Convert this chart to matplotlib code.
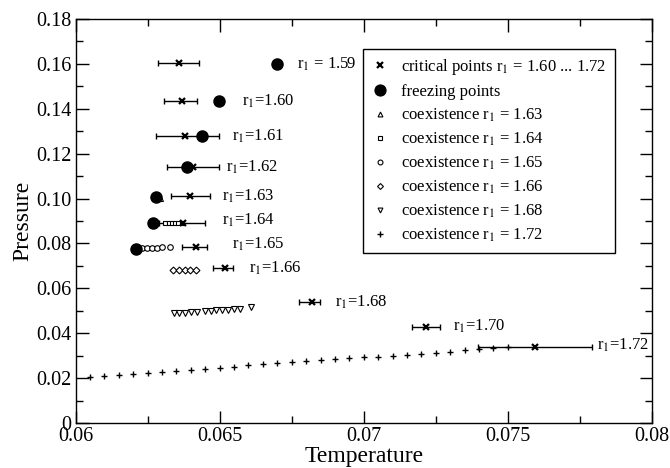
import numpy as np
import matplotlib
matplotlib.use('Agg')
import matplotlib.pyplot as plt
from matplotlib.lines import Line2D

plt.rcParams['font.family'] = ['Liberation Serif', 'DejaVu Serif']
plt.rcParams['mathtext.fontset'] = 'stix'

# critical points with error bars (temperature)
crit_T = [0.06359, 0.06368, 0.0638, 0.06409, 0.06397, 0.06374, 0.06418, 0.06518, 0.06819, 0.07216, 0.07594]
crit_P = [0.1602, 0.1436, 0.1278, 0.1139, 0.1011, 0.0892, 0.0785, 0.0692, 0.0539, 0.0428, 0.0340]
crit_lo = [0.06287, 0.06308, 0.06278, 0.06318, 0.0633, 0.0629, 0.06368, 0.06478, 0.06776, 0.07166, 0.07395]
crit_hi = [0.06428, 0.0642, 0.06499, 0.06499, 0.06467, 0.06449, 0.06457, 0.06547, 0.06848, 0.07264, 0.07793]

# freezing points
frz_T = [0.06698, 0.06499, 0.06438, 0.06388, 0.06279, 0.06268, 0.0621]
frz_P = [0.1600, 0.1436, 0.1278, 0.1139, 0.1005, 0.0889, 0.0775]

# coexistence lines
co163_T = [0.06293]
co163_P = [0.1002]
co164_T = [0.06312, 0.06323, 0.06334, 0.06345, 0.06356, 0.06368]
co164_P = [0.0890, 0.0890, 0.0891, 0.0891, 0.0892, 0.0892]
co165_T = [0.0623, 0.06247, 0.06265, 0.06282, 0.06299, 0.06328]
co165_P = [0.0780, 0.0780, 0.0781, 0.0781, 0.0782, 0.0785]
co166_T = [0.06339, 0.06359, 0.06379, 0.06398, 0.06418]
co166_P = [0.0681, 0.0681, 0.0682, 0.0682, 0.0683]
co168_T = [0.0634, 0.0636, 0.0638, 0.0640, 0.0642, 0.06449, 0.06469, 0.06489, 0.06509, 0.06529, 0.06549, 0.06569, 0.06609]
co168_P = [0.0490, 0.0491, 0.0492, 0.0493, 0.0494, 0.0499, 0.0500, 0.0502, 0.0503, 0.0505, 0.0507, 0.0509, 0.0518]
co172_T = [0.0605, 0.0610, 0.0615, 0.0620, 0.0625, 0.0630, 0.0635, 0.0640, 0.0645, 0.0650,
           0.0655, 0.0660, 0.0665, 0.0670, 0.0675, 0.0680, 0.0685, 0.0690, 0.0695, 0.0700,
           0.0705, 0.0710, 0.0715, 0.0720, 0.0725, 0.0730, 0.0735, 0.0740, 0.0745, 0.0750]
co172_P = [0.0204, 0.0209, 0.0214, 0.0220, 0.0224, 0.0229, 0.0233, 0.0237, 0.0242, 0.0246,
           0.0251, 0.0257, 0.0262, 0.0266, 0.0270, 0.0275, 0.0279, 0.0283, 0.0288, 0.0293,
           0.0296, 0.0300, 0.0304, 0.0309, 0.0313, 0.0318, 0.0324, 0.0331, 0.0333, 0.0337]

# r1 labels
lab_text = [r'r$_1$ = 1.59', r'r$_1$=1.60', r'r$_1$=1.61', r'r$_1$=1.62', r'r$_1$=1.63', r'r$_1$=1.64',
            r'r$_1$=1.65', r'r$_1$=1.66', r'r$_1$=1.68', r'r$_1$=1.70', r'r$_1$=1.72']
lab_T = [0.06769, 0.06577, 0.06542, 0.06521, 0.06509, 0.06509, 0.06544, 0.06602, 0.06900, 0.07311, 0.07810]
lab_P = [0.1580, 0.1413, 0.1256, 0.1119, 0.0989, 0.0882, 0.0775, 0.0671, 0.0518, 0.0411, 0.0325]

xticks = [0.06, 0.065, 0.07, 0.075, 0.08]
xticklabels = ['0.06', '0.065', '0.07', '0.075', '0.08']
yticks = [0, 0.02, 0.04, 0.06, 0.08, 0.10, 0.12, 0.14, 0.16, 0.18]
yticklabels = ['0', '0.02', '0.04', '0.06', '0.08', '0.10', '0.12', '0.14', '0.16', '0.18']

fig = plt.figure(figsize=(6.7, 4.68), dpi=100)
ax = fig.add_axes([0.1127, 0.0962, 0.8604, 0.8632])

crit_T = np.array(crit_T)
xerr = [crit_T - np.array(crit_lo), np.array(crit_hi) - crit_T]
ax.errorbar(crit_T, crit_P, xerr=xerr, fmt='none', ecolor='black', elinewidth=1.0, capsize=2.5, capthick=1.0)

ms = 4
ax.plot(co172_T, co172_P, '+', color='black', ms=4.5, mew=1.0, ls='none')
ax.plot(co163_T, co163_P, '^', mfc='white', mec='black', ms=ms, mew=0.8, ls='none')
ax.plot(co164_T, co164_P, 's', mfc='white', mec='black', ms=3.5, mew=0.8, ls='none')
ax.plot(co165_T, co165_P, 'o', mfc='white', mec='black', ms=ms, mew=0.8, ls='none')
ax.plot(co166_T, co166_P, 'D', mfc='white', mec='black', ms=3.5, mew=0.8, ls='none')
ax.plot(co168_T, co168_P, 'v', mfc='white', mec='black', ms=ms, mew=0.8, ls='none')
ax.plot(crit_T, crit_P, 'x', color='black', ms=5, mew=1.6, ls='none')
ax.plot(frz_T, frz_P, 'o', color='black', ms=8, ls='none')

for t, x, y in zip(lab_text, lab_T, lab_P):
    ax.text(x, y, t, fontsize=12, ha='left', va='baseline')

# legend proxies
def h(m, filled=False, size=4, mew=0.8):
    if filled:
        return Line2D([], [], marker=m, color='black', ms=size, mew=mew, ls='none')
    return Line2D([], [], marker=m, mfc='white', mec='black', ms=size, mew=mew, ls='none')

handles = [h('x', True, 4.5, 1.6), h('o', True, 8), h('^', size=3.5), h('s', size=3.5), h('o', size=3.5),
           h('D', size=3), h('v', size=3.5), h('+', True, 4.5, 1.0)]
labels = [r'critical points r$_1$ = 1.60 ... 1.72', 'freezing points',
          r'coexistence r$_1$ = 1.63', r'coexistence r$_1$ = 1.64', r'coexistence r$_1$ = 1.65',
          r'coexistence r$_1$ = 1.66', r'coexistence r$_1$ = 1.68', r'coexistence r$_1$ = 1.72']
leg = ax.legend(handles, labels, loc='upper left', bbox_to_anchor=(0.4987, 0.926), borderaxespad=0,
                fontsize=12, frameon=True, fancybox=False, edgecolor='black', framealpha=1,
                handlelength=1.0, handletextpad=0.8, labelspacing=0.4, borderpad=0.5)
leg.get_frame().set_linewidth(1.0)

ax.set_xlim(0.06, 0.08)
ax.set_ylim(0, 0.18)
ax.set_xticks(xticks)
ax.set_xticklabels(xticklabels)
ax.set_yticks(yticks)
ax.set_yticklabels(yticklabels)
ax.set_xticks(np.arange(0.0625, 0.08, 0.005), minor=True)
ax.set_yticks(np.arange(0.01, 0.18, 0.02), minor=True)
ax.tick_params(which='both', direction='in', top=True, right=True, labelsize=14.5, width=1.0, pad=3)
ax.tick_params(which='major', length=9)
ax.tick_params(which='minor', length=5)
for s in ax.spines.values():
    s.set_linewidth(1.0)

ax.set_xlabel('Temperature', fontsize=17, labelpad=0)
ax.set_ylabel('Pressure', fontsize=17, labelpad=2)

fig.savefig('out.png', dpi=100)
